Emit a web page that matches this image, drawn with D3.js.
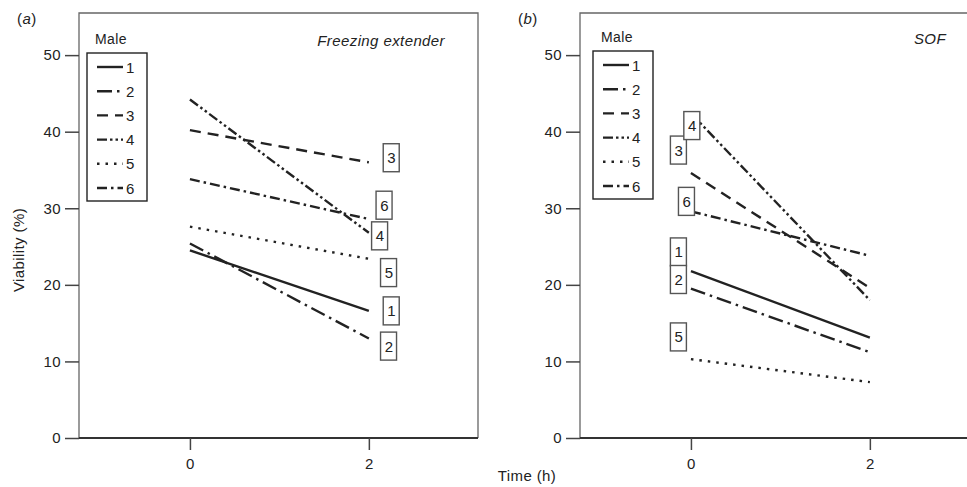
<!DOCTYPE html>
<html><head><meta charset="utf-8">
<script src="https://cdn.jsdelivr.net/npm/d3@7"></script>
<style>body{margin:0;background:#fff}svg{display:block}text{font-family:"Liberation Sans",Arial,sans-serif;fill:#222;letter-spacing:0.4px}</style>
</head><body><svg id="c" width="967" height="487"></svg>
<script>
// ---- data ----
const males = ["1","2","3","4","5","6"];
const times = [0, 2];
const yTicks = [0, 10, 20, 30, 40, 50];
const xTicks = [0, 2];
// Panel (a) Freezing extender: viability at 0 h and 2 h
const freezeStart = [24.5, 25.4, 40.2, 44.2, 27.6, 33.8];
const freezeEnd   = [16.6, 13.0, 36.0, 26.8, 23.4, 28.6];
// label positions (time, viability)
const freezeLabelX = [2.25, 2.22, 2.25, 2.12, 2.22, 2.17];
const freezeLabelY = [16.6, 12.0, 36.6, 26.4, 21.6, 30.4];
// Panel (b) SOF
const sofStart = [21.8, 19.5, 34.6, 42.4, 10.3, 29.6];
const sofEnd   = [13.1, 11.2, 19.6, 18.0, 7.3, 23.8];
const sofLabelX = [-0.14, -0.14, -0.14, 0.01, -0.14, -0.05];
const sofLabelY = [24.3, 20.7, 37.6, 40.8, 13.2, 30.9];

(function(){
const panels = [
  {tag:"a", title:"Freezing extender", start:freezeStart, end:freezeEnd, lx:freezeLabelX, ly:freezeLabelY, x0:79},
  {tag:"b", title:"SOF", start:sofStart, end:sofEnd, lx:sofLabelX, ly:sofLabelY, x0:580}
];
const dashes = {"1":null, "2":"15,5,2.5,5", "3":"11,7", "4":"10,3,2.5,3,2.5,3", "5":"2.5,6", "6":"10,4,2.5,4"};

const svg = d3.select("#c");
const W = 399, yTop = 13, yBot = 438;
const y = d3.scaleLinear().domain([0, 55.5]).range([yBot, yTop]);

panels.forEach(p => {
  const x = d3.scaleLinear().domain([-1.24, 3.22]).range([p.x0, p.x0 + W]);
  const g = svg.append("g");
  g.append("path").attr("d", `M${p.x0},${yBot}V${yTop}H${p.x0+W}V${yBot}`)
    .attr("fill","none").attr("stroke","#666").attr("stroke-width",1.3);
  const ya = g.append("g").attr("transform",`translate(${p.x0},0)`)
    .call(d3.axisLeft(y).tickValues(yTicks).tickSize(14).tickPadding(4).tickFormat(d3.format("d")));
  ya.select(".domain").remove();
  ya.selectAll(".tick line").attr("stroke","#444").attr("stroke-width",1.5);
  ya.selectAll(".tick text").style("font-size","15px").attr("fill","#222")
    .style("font-family","'Liberation Sans',Arial,sans-serif");
  const xa = g.append("g").attr("transform",`translate(0,${yBot})`)
    .call(d3.axisBottom(x).tickValues(xTicks).tickSize(12).tickPadding(8).tickFormat(d3.format("d")));
  xa.select(".domain").attr("stroke","#333").attr("stroke-width",2).attr("d",`M${p.x0},0H${p.x0+W}`);
  xa.selectAll(".tick line").attr("stroke","#444").attr("stroke-width",1.5);
  xa.selectAll(".tick text").style("font-size","15px").attr("fill","#222")
    .style("font-family","'Liberation Sans',Arial,sans-serif");
  const tg = g.append("text").attr("x", p.x0 - 62).attr("y", 24).style("font-size","15px");
  tg.append("tspan").text("(");
  tg.append("tspan").style("font-style","italic").text(p.tag);
  tg.append("tspan").text(")");
  g.append("text").attr("x", p.x0+366).attr("y", p.tag==="a" ? 46 : 44)
    .attr("text-anchor","end").style("font-size","15px").style("font-style","italic").text(p.title);
  males.forEach((m,i) => {
    g.append("path").datum([[times[0], p.start[i]], [times[1], p.end[i]]])
      .attr("d", d3.line().x(d=>x(d[0])).y(d=>y(d[1])))
      .attr("fill","none").attr("stroke","#222").attr("stroke-width",2.4)
      .attr("stroke-dasharray", dashes[m]);
  });
  males.forEach((m,i) => {
    const cx = x(p.lx[i]), cy = y(p.ly[i]);
    g.append("rect").attr("x", cx-8).attr("y", cy-14).attr("width",16).attr("height",28)
      .attr("fill","#fff").attr("stroke","#555").attr("stroke-width",1.4);
    g.append("text").attr("x", cx+0.5).attr("y", cy+5.5).attr("text-anchor","middle")
      .style("font-size","15px").text(m);
  });
  const lx = p.x0 + 8 + (p.tag==="b"?5:0), ly = p.tag==="b" ? 51 : 53;
  g.append("text").attr("x", lx+8).attr("y", ly-9).style("font-size","14px").text("Male");
  g.append("rect").attr("x", lx).attr("y", ly).attr("width", 60).attr("height", 148)
    .attr("fill","#fff").attr("stroke","#222").attr("stroke-width",1.4);
  males.forEach((m,i) => {
    const yy = ly + 14 + i*24.2;
    g.append("line").attr("x1", lx+10).attr("x2", lx+36).attr("y1", yy).attr("y2", yy)
      .attr("stroke","#222").attr("stroke-width",2.4).attr("stroke-dasharray", dashes[m]);
    g.append("text").attr("x", lx+39).attr("y", yy+5.5).style("font-size","15px").text(m);
  });
});

svg.append("text").attr("transform","translate(24,250) rotate(-90)").attr("text-anchor","middle")
  .style("font-size","15px").text("Viability (%)");
svg.append("text").attr("x", 527).attr("y", 481).attr("text-anchor","middle")
  .style("font-size","15px").text("Time (h)");
})();
</script></body></html>
